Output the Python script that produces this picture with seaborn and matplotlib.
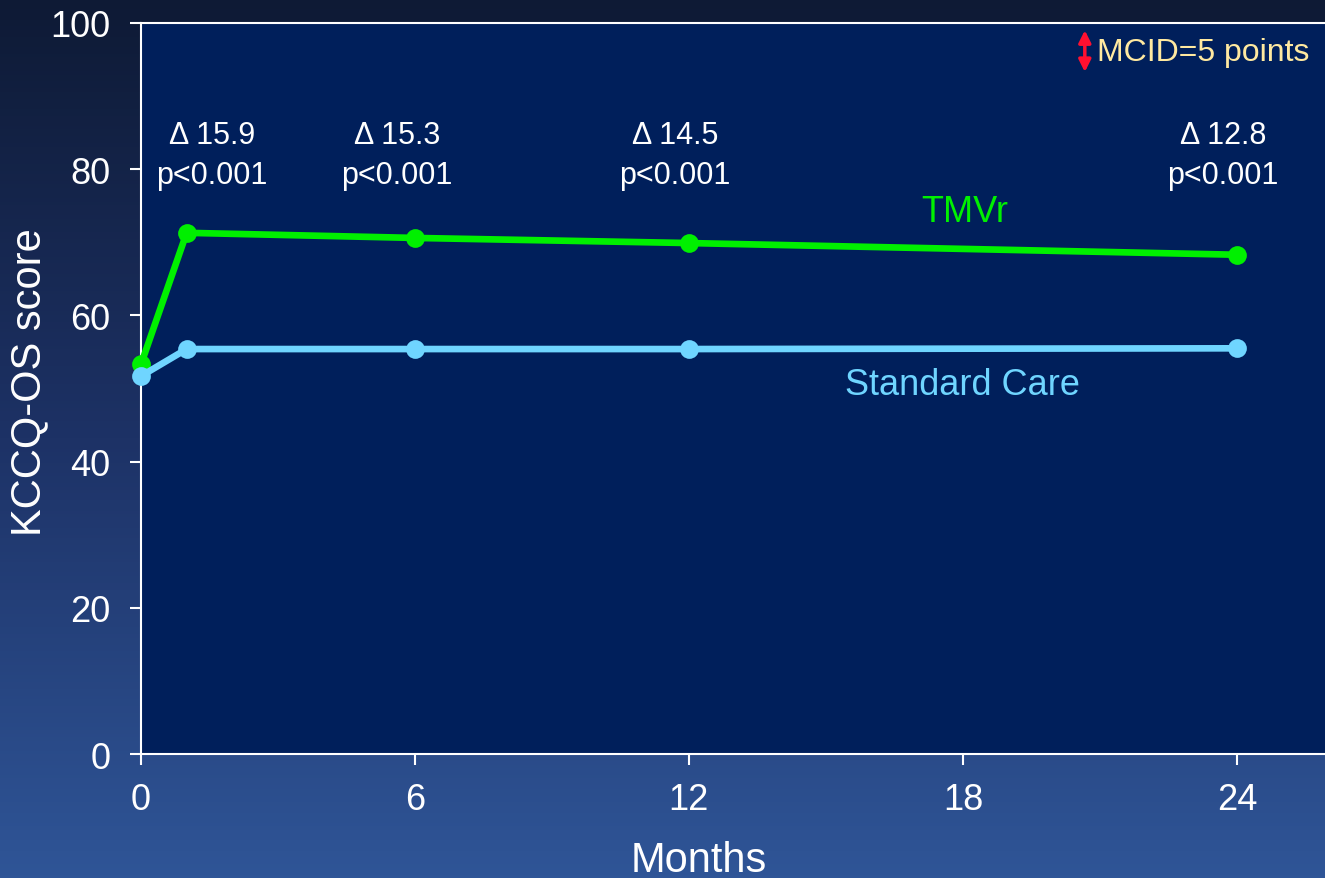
import numpy as np
import pandas as pd
import matplotlib
matplotlib.use("Agg")
import matplotlib.pyplot as plt
import seaborn as sns
from matplotlib.colors import LinearSegmentedColormap

# data
months = [0, 1, 6, 12, 24]
tmvr = [53.3, 71.3, 70.6, 69.9, 68.3]
standard_care = [51.7, 55.4, 55.4, 55.4, 55.5]
delta_labels = ["\u0394 15.9\np<0.001", "\u0394 15.3\np<0.001",
                "\u0394 14.5\np<0.001", "\u0394 12.8\np<0.001"]
delta_x = [1.55, 5.6, 11.7, 23.7]
x_ticks = [0, 6, 12, 18, 24]
y_ticks = [0, 20, 40, 60, 80, 100]

df = pd.DataFrame({
    "Months": months * 2,
    "score": tmvr + standard_care,
    "group": ["TMVr"] * len(months) + ["Standard Care"] * len(months),
})

sns.set_theme(style="white")
plt.rcParams["font.family"] = ["Liberation Sans", "DejaVu Sans"]

green = "#00f000"
blue = "#6fd5ff"

fig = plt.figure(figsize=(13.25, 8.79), dpi=100)

# gradient backdrop
bg = fig.add_axes([0, 0, 1, 1], zorder=-10)
grad_cmap = LinearSegmentedColormap.from_list("bg", ["#0e1a35", "#1d3266", "#2f5597"])
bg.imshow(np.linspace(0, 1, 256).reshape(-1, 1), aspect="auto", cmap=grad_cmap,
          extent=[0, 1, 0, 1])
bg.axis("off")

ax = fig.add_axes([0.1064, 0.141, 0.8936, 0.8317])
ax.set_facecolor("#001f5b")

sns.lineplot(data=df, x="Months", y="score", hue="group",
             palette={"TMVr": green, "Standard Care": blue},
             hue_order=["TMVr", "Standard Care"],
             marker="o", markersize=13.5, markeredgewidth=0, linewidth=4.8,
             legend=False, ax=ax, clip_on=False, zorder=3)

ax.set_xlim(0, 25.93)
ax.set_ylim(0, 100)
ax.set_xticks(x_ticks)
ax.set_yticks(y_ticks)
ax.tick_params(colors="white", labelsize=26, direction="out", length=8, width=1.5,
               left=True, bottom=True)
ax.tick_params(axis="y", pad=14)
ax.tick_params(axis="x", pad=12)
for s in ["left", "bottom", "top"]:
    ax.spines[s].set_color("white")
    ax.spines[s].set_linewidth(1.5)
ax.spines["right"].set_visible(False)

ax.set_xlabel("Months", color="white", fontsize=30, va="center")
ax.set_ylabel("KCCQ-OS score", color="white", fontsize=30, va="center")
ax.xaxis.set_label_coords(0.471, -0.145)
ax.yaxis.set_label_coords(-0.094, 0.51)

for xv, lab in zip(delta_x, delta_labels):
    ax.text(xv, 81.9, lab, color="white", fontsize=22, ha="center", va="center",
            linespacing=1.45)

ax.text(18.05, 74.2, "TMVr", color=green, fontsize=26, ha="center", va="center")
ax.text(18.0, 50.6, "Standard Care", color=blue, fontsize=26, ha="center", va="center")

ax.annotate("", xy=(20.67, 93.3), xytext=(20.67, 99.0),
            arrowprops=dict(arrowstyle="<|-|>", color="#ff1030", lw=2.5,
                            mutation_scale=18, shrinkA=0, shrinkB=0))
ax.text(20.93, 96.0, "MCID=5 points", color="#ffe9a0", fontsize=23, ha="left", va="center")

fig.savefig("out.png", dpi=100)
